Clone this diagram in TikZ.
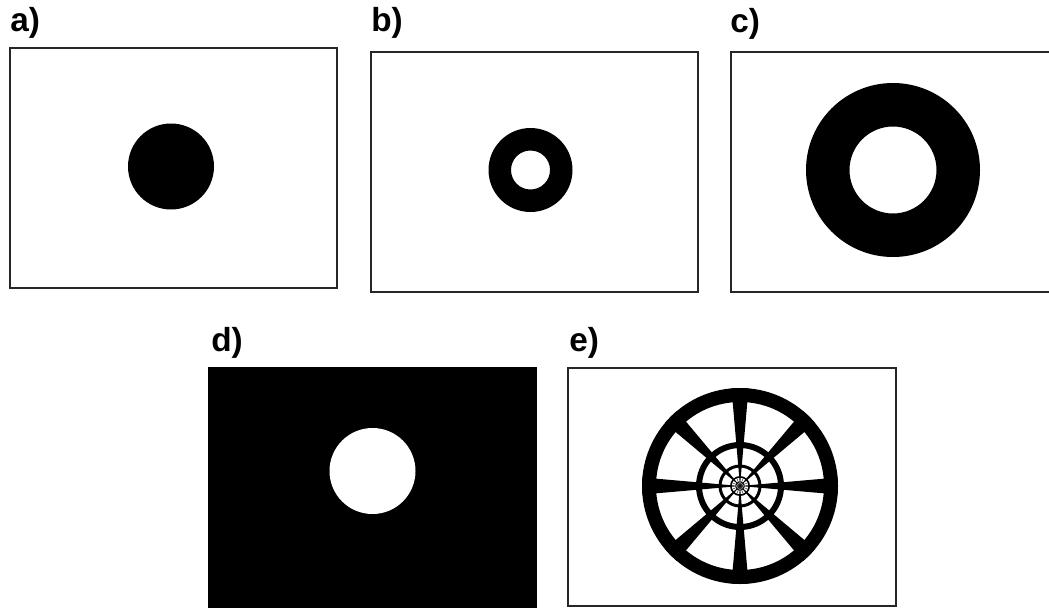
\documentclass[tikz,border=0pt]{standalone}
\usepackage{fontspec}
\setmainfont{Liberation Sans}
\begin{document}
\begin{tikzpicture}[x=0.75pt,y=-0.75pt,
  panel/.style={draw=black!85,line width=1.1pt,fill=white},
  lab/.style={anchor=base west,inner sep=0pt,font=\bfseries\fontsize{25}{30}\selectfont}]
\useasboundingbox (0,0) rectangle (1049,607);
\fill[white] (0,0) rectangle (1049,607);
% labels
\node[lab] (la) at (10,31) {a)};
\node[lab] (lb) at (371,31) {b)};
\node[lab] (lc) at (730,32) {c)};
\node[lab] (ld) at (211,351) {d)};
\node[lab] (le) at (569,351) {e)};
% panel a
\draw[panel] (10,48) rectangle (337,288);
\fill (171,166.5) circle[radius=43];
% panel b
\draw[panel] (371,52) rectangle (698,292);
\fill[even odd rule] (530.5,170) circle[radius=42] (530.5,170) circle[radius=19.5];
% panel c
\draw[panel] (731,52) rectangle (1070,292);
\fill[even odd rule] (893,170) circle[radius=87] (893,170) circle[radius=43.5];
% panel d
\fill[black] (208,367) rectangle (537,610);
\fill[white] (372.5,471) circle[radius=43];
% panel e
\draw[panel] (568,368) rectangle (896,606);
\coordinate (w) at (740,486);
\foreach \a in {0,45,...,315}{
  \fill (w) -- ++(\a-5:98) arc[start angle=\a-5,end angle=\a+5,radius=98] -- cycle;
}
\foreach \ro/\ri in {98/84,44/38,21.5/18.5,10/8.4,4.7/4}{
  \fill[even odd rule] (w) circle[radius=\ro] (w) circle[radius=\ri];
}
\foreach \r in {2.6,1.6}{\draw[line width=0.3pt] (w) circle[radius=\r];}
\foreach \a in {22.5,67.5,...,337.5}{\draw[line width=0.3pt] (w) -- ++(\a:9.5);}
\end{tikzpicture}
\end{document}
